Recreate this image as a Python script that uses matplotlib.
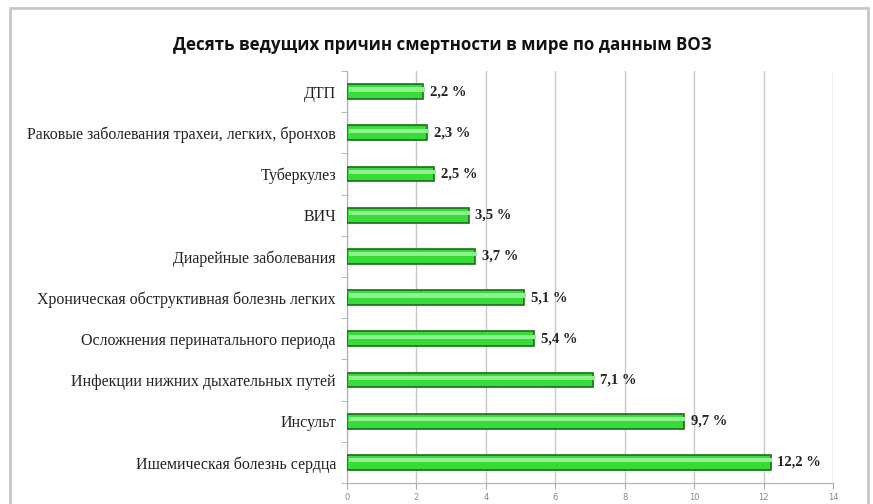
import matplotlib
matplotlib.use("Agg")
import matplotlib.pyplot as plt
from matplotlib.patches import Rectangle

categories = ["ДТП", "Раковые заболевания трахеи, легких, бронхов", "Туберкулез", "ВИЧ",
              "Диарейные заболевания", "Хроническая обструктивная болезнь легких",
              "Осложнения перинатального периода", "Инфекции нижних дыхательных путей",
              "Инсульт", "Ишемическая болезнь сердца"]
values = [2.2, 2.3, 2.5, 3.5, 3.7, 5.1, 5.4, 7.1, 9.7, 12.2]
labels = ["2,2 %", "2,3 %", "2,5 %", "3,5 %", "3,7 %", "5,1 %", "5,4 %", "7,1 %", "9,7 %", "12,2 %"]
xticks = [0, 2, 4, 6, 8, 10, 12, 14]

fig = plt.figure(figsize=(8.73, 5.04), dpi=100)
fig.patches.append(Rectangle((10/873, -0.02), 858/873, 1 - 8/504 + 0.02, transform=fig.transFigure,
                             fill=False, edgecolor="#c8c8c8", linewidth=2))
ax = fig.add_axes([347/873, 1 - 483/504, (833 - 347)/873, (483 - 71)/504])

y = list(range(len(categories)))
ax.barh(y, values, height=0.36, color="#38dc38", edgecolor="#1d6b1d", linewidth=1.2, zorder=3)
ax.barh([v - 0.05 for v in y], values, height=0.1, left=0.05, color="#8ff08f", linewidth=0, zorder=4)
ax.set_ylim(len(categories) - 0.5, -0.5)
ax.set_xlim(0, 14)
ax.set_yticks(y)
ax.set_yticklabels(categories, family="Liberation Serif", fontsize=11.5, color="#222222")
ax.set_yticks([i - 0.5 for i in range(len(categories) + 1)], minor=True)
ax.tick_params(axis="y", which="major", length=0, pad=8)
ax.tick_params(axis="y", which="minor", length=4, color="#aaaaaa")
ax.set_xticks(xticks)
ax.set_xticklabels([str(t) for t in xticks], fontsize=6, color="#888888")
ax.tick_params(axis="x", length=4, color="#aaaaaa", pad=3)
ax.grid(axis="x", color="#c8c8c8", linewidth=1, zorder=0)
for s in ["top", "right"]:
    ax.spines[s].set_visible(False)
for s in ["left", "bottom"]:
    ax.spines[s].set_color("#b0b0b0")

for yi, v, lab in zip(y, values, labels):
    ax.text(v + 0.2, yi, lab, va="center", ha="left", family="Liberation Serif",
            fontweight="bold", fontsize=10.5, color="#222222", zorder=5)

fig.text(442/873, 1 - 45/504, "Десять ведущих причин смертности в мире по данным ВОЗ",
         ha="center", va="center", fontsize=12.2, fontweight="bold", family="Open Sans", color="#111111")

fig.savefig("out.png", dpi=100)
